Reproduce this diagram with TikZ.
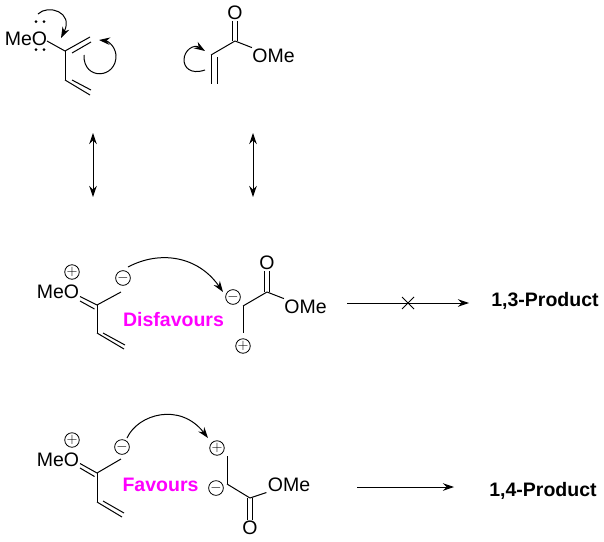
\documentclass[tikz,border=0pt]{standalone}
\usepackage{fontspec}
\setmainfont{Liberation Sans}
\usepackage{tikz}
\usetikzlibrary{
	arrows.meta,
	calc
}
\definecolor{hintcolor}{RGB}{255,0,255}
\tikzset{every path/.append style={line width=1pt}}
\tikzset{every path/.append style={>={Stealth[length=11pt,width=7.5pt]}}}
\tikzset{
	atomlabel/.style={inner sep=0pt,outer sep=1.5pt,font=\fontsize{19.5}{19.5}\selectfont},
	hintlabel/.style={inner sep=0pt,text=hintcolor,font=\fontsize{19.5}{19.5}\selectfont\bfseries},
	productlabel/.style={inner sep=0pt,text depth=0pt,font=\fontsize{19.5}{19.5}\selectfont\bfseries},
	charge/.style={circle,draw,line width=0.8pt,inner sep=0pt,minimum size=14.5pt,font=\fontsize{15}{15}\selectfont},
	lonepair/.style={circle,fill,inner sep=0pt,minimum size=3pt}
}
\newcommand{\tikzCharge}[3]{\node (#3) at #1 [charge]{$#2$};}

\begin{document}
\begin{tikzpicture}[x=1pt,y=-1pt]
	\useasboundingbox (0,0) rectangle (604,541);

	% Diene
	\node (meoA) at (26,39) [atomlabel]{MeO};
	\node (lpA) at (36,21.5) [lonepair]{};
	\node (lpB) at (44,21.5) [lonepair]{};
	\node (lpC) at (36,49.5) [lonepair]{};
	\node (lpD) at (44,49.5) [lonepair]{};
	\coordinate (oA) at (47,41);
	\coordinate (cA) at (65,51);
	\coordinate (cB) at (90,37);
	\coordinate (cBi) at (72,53);
	\coordinate (cBj) at (91,42);
	\coordinate (cC) at (65,80);
	\coordinate (cD) at (90,95);
	\coordinate (cDi) at (72,80);
	\coordinate (cDj) at (91,90);
	\draw (oA) -- (cA);
	\draw (cA) -- (cB);
	\draw (cBi) -- (cBj);
	\draw (cA) -- (cC);
	\draw (cC) -- (cD);
	\draw (cDi) -- (cDj);

	% Electron pushing on the diene
	\coordinate (pushA) at (38,14);
	\coordinate (pushB) at (61,38);
	\coordinate (pushC) at (84,55);
	\coordinate (pushD) at (99,40);
	\draw[->] (pushA) .. controls (48,4) and (74,12) .. (pushB);
	\draw[->] (pushC) .. controls (83,81) and (117,79) .. (116,55) .. controls (115,46) and (108,41) .. (pushD);

	% Acrylate
	\node (oB) at (235,13) [atomlabel]{O};
	\node (omeA) at (273.5,56) [atomlabel]{OMe};
	\coordinate (cE) at (235,41);
	\coordinate (cF) at (211,55);
	\coordinate (cG) at (211,84);
	\draw ($(oB.south)+(-2.5,0)$) -- ($(cE)+(-2.5,0)$);
	\draw ($(oB.south)+(2.5,0)$) -- ($(cE)+(2.5,0)$);
	\draw (cE) -- (cF);
	\draw (cE) -- (omeA);
	\draw (cF) -- (cG);
	\draw (217,57) -- (217,84);
	\coordinate (pushE) at (205,70);
	\coordinate (pushF) at (205,51);
	\draw[->] (pushE) .. controls (190,75) and (184,67) .. (184,60) .. controls (184,50) and (194,44) .. (pushF);

	% Resonance
	\coordinate (resAt) at (93,133);
	\coordinate (resAb) at (93,197);
	\coordinate (resBt) at (253,133);
	\coordinate (resBb) at (253,197);
	\draw[<->] (resAt) -- (resAb);
	\draw[<->] (resBt) -- (resBb);

	% 1,3 route
	\node (meoB) at (58,292) [atomlabel]{MeO};
	\tikzCharge{(72,272)}{+}{posA}
	\tikzCharge{(123,278)}{-}{negA}
	\coordinate (cH) at (97,305);
	\coordinate (cI) at (121,292);
	\coordinate (cJ) at (97,333);
	\coordinate (cK) at (124,349);
	\draw (80,296.5) -- (cH);
	\draw (80,301) -- (94.5,309);
	\draw (cH) -- (cI);
	\draw (cH) -- (cJ);
	\draw (cJ) -- (cK);
	\draw (103,333) -- (125,345);
	\node (oC) at (267,263) [atomlabel]{O};
	\node (omeB) at (305.5,307) [atomlabel]{OMe};
	\tikzCharge{(233,297)}{-}{negB}
	\tikzCharge{(243,346)}{+}{posB}
	\coordinate (cL) at (267,292);
	\coordinate (cM) at (243,306);
	\coordinate (cN) at (243,333);
	\draw ($(oC.south)+(-2.5,0)$) -- ($(cL)+(-2.5,0)$);
	\draw ($(oC.south)+(2.5,0)$) -- ($(cL)+(2.5,0)$);
	\draw (cL) -- (cM);
	\draw (cL) -- (omeB);
	\draw (cM) -- (cN);
	\coordinate (pushG) at (128,267);
	\coordinate (pushH) at (223,292);
	\draw[->] (pushG) .. controls (160,250) and (198,256) .. (pushH);
	\node (hintA) at (173.5,320) [hintlabel]{Disfavours};

	% Blocked arrow
	\coordinate (arrA) at (347,303);
	\coordinate (arrB) at (469,303);
	\coordinate (crossA) at (408,303);
	\draw[->] (arrA) -- (arrB);
	\draw ($(crossA)+(-6,-6)$) -- ($(crossA)+(6,6)$);
	\draw ($(crossA)+(-6,6)$) -- ($(crossA)+(6,-6)$);
	\node (prodA) at (545,299) [productlabel]{1,3-Product};

	% 1,4 route
	\node (meoC) at (58,460) [atomlabel]{MeO};
	\tikzCharge{(72,440)}{+}{posC}
	\tikzCharge{(122,447)}{-}{negC}
	\coordinate (cO) at (97,473);
	\coordinate (cP) at (121,459);
	\coordinate (cQ) at (97,502);
	\coordinate (cR) at (122,517);
	\draw (80,463.5) -- (cO);
	\draw (80,468) -- (94.5,476.5);
	\draw (cO) -- (cP);
	\draw (cO) -- (cQ);
	\draw (cQ) -- (cR);
	\draw (103,501) -- (124,513);
	\tikzCharge{(217,448)}{+}{posD}
	\tikzCharge{(216,488)}{-}{negD}
	\node (omeC) at (289,485) [atomlabel]{OMe};
	\node (oD) at (250,528) [atomlabel]{O};
	\coordinate (cS) at (227,456);
	\coordinate (cT) at (227,484);
	\coordinate (cU) at (250,498);
	\draw (cS) -- (cT);
	\draw (cT) -- (cU);
	\draw (cU) -- (omeC);
	\draw ($(cU)+(-2.5,0)$) -- ($(oD.north)+(-2.5,0)$);
	\draw ($(cU)+(2.5,0)$) -- ($(oD.north)+(2.5,0)$);
	\coordinate (pushI) at (127,438);
	\coordinate (pushJ) at (208,438);
	\draw[->] (pushI) .. controls (138,414) and (180,402) .. (pushJ);
	\node (hintB) at (160.5,485) [hintlabel]{Favours};

	% Forward arrow
	\coordinate (arrC) at (357,487);
	\coordinate (arrD) at (454,487);
	\draw[->] (arrC) -- (arrD);
	\node (prodB) at (543,489) [productlabel]{1,4-Product};
\end{tikzpicture}
\end{document}
